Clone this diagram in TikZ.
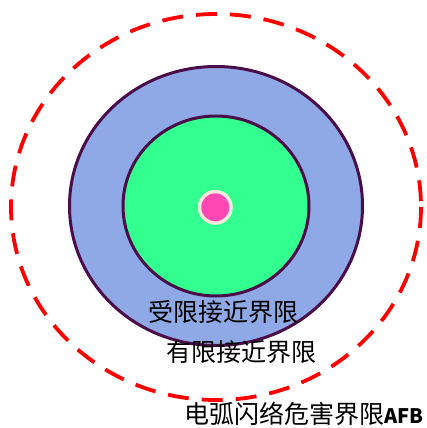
\documentclass[tikz,border=0pt]{standalone}
\usepackage{fontspec}
\newfontfamily\cjk{Noto Sans CJK SC}
\definecolor{ringline}{HTML}{4A0D4A}
\definecolor{bluefill}{HTML}{8EA9E6}
\definecolor{greenfill}{HTML}{33FF90}
\definecolor{pinkfill}{HTML}{FF48B4}
\definecolor{creamring}{HTML}{F2EADB}
\definecolor{dashred}{HTML}{FF0000}
\tikzset{
  ringstyle/.style={draw=ringline, line width=3pt},
  afbline/.style={draw=dashred, line width=3.8pt, dash pattern=on 21pt off 13pt},
  lbl/.style={font=\cjk\fontsize{25}{25}\selectfont, text=black, inner sep=0pt, anchor=west}
}
\begin{document}
\begin{tikzpicture}[x=1pt,y=-1pt]
\useasboundingbox (0,0) rectangle (426,428);
\fill[white] (0,0) rectangle (426,428);
\draw[afbline] (216,207) ellipse [x radius=205, y radius=193];
\draw[ringstyle, fill=bluefill] (216,206) ellipse [x radius=146.5, y radius=139.5];
\draw[ringstyle, fill=greenfill] (216,206) ellipse [x radius=93, y radius=90];
\fill[creamring] (215.3,207.3) circle [radius=17.5];
\fill[pinkfill] (215.3,207.3) circle [radius=14];
\node[lbl] (restricted) at (148,312) {受限接近界限};
\node[lbl] (limited) at (166,352) {有限接近界限};
\node[lbl] (afb) at (184,414) {电弧闪络危害界限{\fontsize{20}{20}\selectfont\bfseries AFB}};
\end{tikzpicture}
\end{document}
